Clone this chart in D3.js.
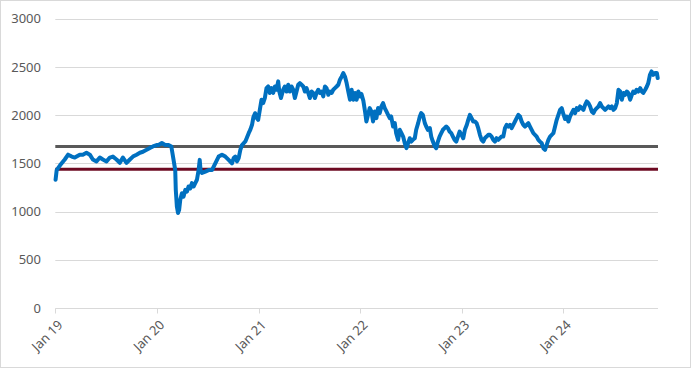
<!DOCTYPE html>
<html>
<head>
<meta charset="utf-8">
<script src="https://cdn.jsdelivr.net/npm/d3@7"></script>
<style>
  html, body { margin: 0; padding: 0; background: #fff; }
  svg { display: block; }
  text { font-family: "Noto Sans", "Open Sans", sans-serif; fill: #595959; }
</style>
</head>
<body>
<svg id="chart" width="691" height="368"></svg>
<script>
// ---- data ----
const dates = [
"2019-01-02","2019-01-06","2019-01-18","2019-02-04","2019-02-16","2019-03-01","2019-03-12","2019-03-30","2019-04-10","2019-04-23",
"2019-05-05","2019-05-16","2019-05-29","2019-06-10","2019-06-21","2019-07-04","2019-07-16","2019-07-27","2019-08-09","2019-08-21",
"2019-09-01","2019-09-14","2019-09-26","2019-10-07","2019-10-20","2019-11-01","2019-11-12","2019-11-25","2019-12-07","2019-12-18",
"2019-12-31","2020-01-07","2020-01-19","2020-01-31","2020-02-12","2020-02-22","2020-03-01","2020-03-07","2020-03-09","2020-03-13",
"2020-03-17","2020-03-21","2020-03-25","2020-03-31","2020-04-06","2020-04-12","2020-04-18","2020-04-24","2020-04-30","2020-05-06",
"2020-05-12","2020-05-18","2020-05-24","2020-05-30","2020-06-03","2020-06-06","2020-06-11","2020-06-23","2020-07-05","2020-07-17",
"2020-07-29","2020-08-10","2020-08-22","2020-09-03","2020-09-15","2020-09-27","2020-10-03","2020-10-09","2020-10-15","2020-10-21",
"2020-10-27","2020-11-02","2020-11-14","2020-11-26","2020-12-02","2020-12-08","2020-12-13","2020-12-19","2020-12-25","2020-12-30",
"2021-01-05","2021-01-11","2021-01-17","2021-01-23","2021-01-29","2021-02-04","2021-02-10","2021-02-16","2021-02-22","2021-02-28",
"2021-03-06","2021-03-12","2021-03-16","2021-03-22","2021-03-30","2021-04-05","2021-04-11","2021-04-17","2021-04-23","2021-04-29",
"2021-05-05","2021-05-11","2021-05-17","2021-05-23","2021-05-29","2021-06-04","2021-06-10","2021-06-16","2021-06-22","2021-06-28",
"2021-07-04","2021-07-10","2021-07-16","2021-07-22","2021-07-28","2021-08-03","2021-08-09","2021-08-15","2021-08-21","2021-08-27",
"2021-09-02","2021-09-08","2021-09-14","2021-09-20","2021-09-26","2021-10-02","2021-10-08","2021-10-14","2021-10-20","2021-10-26",
"2021-11-01","2021-11-07","2021-11-13","2021-11-19","2021-11-25","2021-12-01","2021-12-07","2021-12-13","2021-12-19","2021-12-25",
"2021-12-31","2022-01-05","2022-01-12","2022-01-18","2022-01-23","2022-01-29","2022-02-04","2022-02-10","2022-02-16","2022-02-22",
"2022-02-28","2022-03-06","2022-03-12","2022-03-18","2022-03-24","2022-03-30","2022-04-05","2022-04-11","2022-04-17","2022-04-22",
"2022-04-29","2022-05-05","2022-05-10","2022-05-17","2022-05-23","2022-05-29","2022-06-04","2022-06-10","2022-06-16","2022-06-22",
"2022-06-28","2022-07-03","2022-07-09","2022-07-16","2022-07-21","2022-07-28","2022-08-03","2022-08-08","2022-08-14","2022-08-21",
"2022-08-26","2022-09-01","2022-09-08","2022-09-13","2022-09-19","2022-09-26","2022-10-01","2022-10-07","2022-10-13","2022-10-19",
"2022-10-25","2022-10-31","2022-11-06","2022-11-12","2022-11-18","2022-11-24","2022-11-30","2022-12-06","2022-12-12","2022-12-18",
"2022-12-24","2022-12-30","2023-01-06","2023-01-12","2023-01-19","2023-01-24","2023-01-30","2023-02-05","2023-02-11","2023-02-17",
"2023-02-23","2023-03-01","2023-03-07","2023-03-13","2023-03-19","2023-03-25","2023-03-31","2023-04-06","2023-04-12","2023-04-18",
"2023-04-24","2023-04-30","2023-05-06","2023-05-12","2023-05-18","2023-05-24","2023-05-30","2023-06-05","2023-06-11","2023-06-17",
"2023-06-23","2023-06-29","2023-07-05","2023-07-11","2023-07-17","2023-07-23","2023-07-29","2023-08-04","2023-08-10","2023-08-16",
"2023-08-22","2023-08-28","2023-09-03","2023-09-09","2023-09-15","2023-09-21","2023-09-27","2023-10-03","2023-10-09","2023-10-15",
"2023-10-21","2023-10-27","2023-11-02","2023-11-08","2023-11-14","2023-11-20","2023-11-26","2023-12-02","2023-12-08","2023-12-14",
"2023-12-20","2023-12-26","2024-01-01","2024-01-07","2024-01-13","2024-01-19","2024-01-25","2024-01-31","2024-02-06","2024-02-12",
"2024-02-18","2024-02-24","2024-03-01","2024-03-07","2024-03-13","2024-03-19","2024-03-25","2024-03-31","2024-04-06","2024-04-12",
"2024-04-18","2024-04-24","2024-04-30","2024-05-06","2024-05-12","2024-05-18","2024-05-24","2024-05-30","2024-06-05","2024-06-11",
"2024-06-17","2024-06-23","2024-06-29","2024-07-05","2024-07-11","2024-07-17","2024-07-23","2024-07-29","2024-08-04","2024-08-10",
"2024-08-16","2024-08-21","2024-08-28","2024-09-03","2024-09-08","2024-09-14","2024-09-20","2024-09-26","2024-10-03","2024-10-09",
"2024-10-14","2024-10-21","2024-10-27","2024-11-01","2024-11-07","2024-11-13","2024-11-19","2024-11-25","2024-12-02","2024-12-05"
];
const prices = [
1330,1430,1480,1540,1590,1570,1560,1590,1590,1610,
1590,1540,1520,1560,1540,1520,1560,1570,1540,1505,
1560,1505,1540,1570,1590,1610,1620,1640,1660,1675,
1690,1690,1710,1690,1690,1675,1536,1430,1225,1050,
985,1017,1120,1190,1155,1225,1207,1260,1240,1295,
1260,1295,1330,1430,1536,1430,1400,1415,1430,1430,
1500,1570,1590,1570,1536,1500,1555,1570,1520,1555,
1640,1690,1727,1813,1850,1900,1980,2020,1970,1950,
2055,2160,2125,2177,2280,2297,2230,2280,2230,2297,
2263,2350,2245,2177,2263,2297,2245,2315,2245,2297,
2263,2177,2245,2315,2332,2315,2297,2245,2280,2230,
2177,2245,2230,2177,2230,2263,2230,2245,2195,2297,
2280,2211,2245,2230,2263,2280,2297,2315,2367,2400,
2436,2400,2332,2245,2160,2263,2160,2230,2160,2245,
2195,2220,2150,2040,1934,2003,2073,2038,1934,2038,
1969,2073,2021,2090,2125,2073,2038,2003,1969,1986,
1882,1917,1813,1744,1848,1813,1778,1709,1657,1709,
1761,1726,1744,1761,1848,1917,1986,2021,2003,1917,
1882,1848,1865,1778,1726,1675,1657,1726,1778,1813,
1848,1865,1882,1865,1830,1813,1778,1744,1726,1778,
1830,1800,1760,1848,1900,1951,2003,1969,1934,1934,
1917,1865,1796,1744,1726,1761,1778,1796,1796,1778,
1744,1726,1761,1744,1761,1778,1778,1865,1900,1882,
1900,1865,1900,1934,1969,2003,1986,1934,1900,1882,
1900,1917,1882,1848,1813,1796,1778,1744,1726,1709,
1657,1640,1692,1744,1778,1796,1813,1882,1951,2003,
2055,2073,2010,1960,1986,1934,1986,2021,2055,2021,
2073,2055,2090,2073,2055,2107,2142,2125,2090,2038,
2021,2055,2073,2090,2125,2090,2073,2055,2073,2090,
2073,2090,2055,2073,2125,2263,2245,2160,2230,2211,
2245,2230,2160,2211,2245,2230,2263,2245,2280,2245,
2230,2263,2297,2332,2418,2453,2418,2436,2436,2384
];
const upperLevel = 1674;
const lowerLevel = 1440;
const yTicks = [0, 500, 1000, 1500, 2000, 2500, 3000];
const xTickDates = ["2019-01-01","2020-01-01","2021-01-01","2022-01-01","2023-01-01","2024-01-01"];
const xTickLabels = ["Jan 19","Jan 20","Jan 21","Jan 22","Jan 23","Jan 24"];
const axisStart = "2019-01-01";
const axisEnd = "2024-12-06";

// ---- drawing ----
const parse = d3.utcParse("%Y-%m-%d");
const series = dates.map((d, i) => ({ date: parse(d), value: prices[i] }));

const svg = d3.select("#chart");
const W = 691, H = 368;

svg.append("rect")
  .attr("x", 0.5).attr("y", 0.5).attr("width", W - 1).attr("height", H - 1)
  .attr("fill", "#fff").attr("stroke", "#d9d9d9");

const x = d3.scaleUtc().domain([parse(axisStart), parse(axisEnd)]).range([55.3, 658]);
const y = d3.scaleLinear().domain([0, 3000]).range([308, 18.7]);

// gridlines
svg.append("g").selectAll("line").data(yTicks.filter(t => t > 0)).join("line")
  .attr("x1", x.range()[0]).attr("x2", x.range()[1])
  .attr("y1", d => Math.round(y(d)) + 0.5).attr("y2", d => Math.round(y(d)) + 0.5)
  .attr("stroke", "#d9d9d9").attr("stroke-width", 1);

// y axis labels
svg.append("g").selectAll("text").data(yTicks).join("text")
  .attr("x", 41).attr("y", d => y(d))
  .attr("dy", "0.36em")
  .attr("text-anchor", "end")
  .attr("font-size", "13px")
  .text(d => d);

// x axis line and ticks
const xAxisY = Math.round(y(0)) + 0.5;
svg.append("line")
  .attr("x1", x.range()[0]).attr("x2", x.range()[1])
  .attr("y1", xAxisY).attr("y2", xAxisY)
  .attr("stroke", "#d9d9d9");
const tickData = xTickDates.map((d, i) => ({ date: parse(d), label: xTickLabels[i] }));
svg.append("g").selectAll("line").data(tickData).join("line")
  .attr("x1", d => Math.round(x(d.date)) + 0.5).attr("x2", d => Math.round(x(d.date)) + 0.5)
  .attr("y1", xAxisY).attr("y2", xAxisY + 5)
  .attr("stroke", "#d9d9d9");
svg.append("g").selectAll("text").data(tickData).join("text")
  .attr("text-anchor", "end")
  .attr("font-size", "13px")
  .attr("transform", d => `translate(${x(d.date) + 5},${xAxisY + 14}) rotate(-45)`)
  .attr("dy", "0.36em")
  .text(d => d.label);

// reference levels
const levelLine = (val, color) => svg.append("line")
  .attr("x1", x.range()[0]).attr("x2", x.range()[1])
  .attr("y1", y(val)).attr("y2", y(val))
  .attr("stroke", color).attr("stroke-width", 3);
levelLine(upperLevel, "#595959");
levelLine(lowerLevel, "#6d0a22");

// price line
const line = d3.line().x(d => x(d.date)).y(d => y(d.value)).curve(d3.curveLinear);
svg.append("path").datum(series)
  .attr("d", line)
  .attr("fill", "none")
  .attr("stroke", "#0070c0")
  .attr("stroke-width", 4)
  .attr("stroke-linejoin", "round")
  .attr("stroke-linecap", "round");
</script>
</body>
</html>
